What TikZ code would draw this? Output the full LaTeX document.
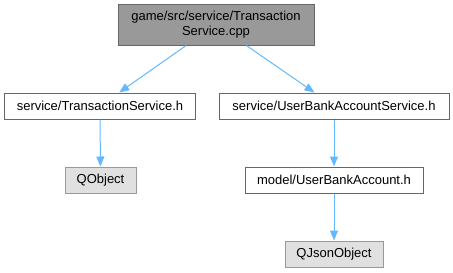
\documentclass[tikz,border=0pt]{standalone}
\usepackage{fontspec}
\setmainfont{Liberation Sans}
\usetikzlibrary{arrows.meta}
\definecolor{edgeblue}{HTML}{63B8FF}
\definecolor{rootfill}{HTML}{999999}
\definecolor{rootline}{HTML}{666666}
\definecolor{extfill}{HTML}{E0E0E0}
\definecolor{extline}{HTML}{999999}
\begin{document}
\begin{tikzpicture}[x=1bp,y=-1bp,
  every node/.style={font=\fontsize{13bp}{15bp}\selectfont, inner sep=0pt, line width=1bp, anchor=center},
  rootbox/.style={draw=rootline, fill=rootfill, align=center},
  filebox/.style={draw=rootline, fill=white},
  extbox/.style={draw=extline, fill=extfill},
  dep/.style={draw=edgeblue, line width=1bp, -{Triangle[length=10bp,width=8bp]}}]
  \useasboundingbox (0,0) rectangle (453,272);

  % included files
  \node[rootbox, minimum width=196bp, minimum height=41bp] (root) at (216,24.5)
    {game/src/service/Transaction\\Service.cpp};
  \node[filebox, minimum width=190bp, minimum height=26bp] (tsh) at (100,106)
    {service/TransactionService.h};
  \node[filebox, minimum width=230bp, minimum height=26bp] (ubas) at (334,106)
    {service/UserBankAccountService.h};
  \node[extbox, minimum width=71bp, minimum height=26bp] (qobj) at (100.5,180)
    {QObject};
  \node[filebox, minimum width=178bp, minimum height=26bp] (uba) at (334,180)
    {model/UserBankAccount.h};
  \node[extbox, minimum width=98bp, minimum height=26bp] (qjson) at (334,254)
    {QJsonObject};

  % include edges
  \draw[dep] (root) -- (tsh);
  \draw[dep] (root) -- (ubas);
  \draw[dep] (tsh) -- (qobj);
  \draw[dep] (ubas) -- (uba);
  \draw[dep] (uba) -- (qjson);
\end{tikzpicture}
\end{document}
